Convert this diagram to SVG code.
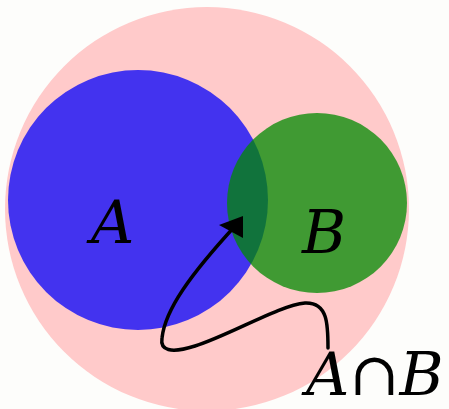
<svg xmlns="http://www.w3.org/2000/svg" width="449" height="409" viewBox="0 0 449 409">
<style>
.lbl{font-family:"DejaVu Serif","Liberation Serif",serif;font-style:italic;font-size:60px;fill:#000}
.conn{fill:none;stroke:#000;stroke-width:3.5;stroke-linecap:round}
</style>
<rect width="449" height="409" fill="#fdfdfb"/>
<g id="universe"><circle cx="207" cy="209" r="202" fill="#ffcaca"/></g>
<g id="A"><circle cx="138" cy="200" r="130" fill="#4333ef"/><text class="lbl" x="91" y="243">A</text></g>
<g id="B"><circle cx="317" cy="203" r="90" fill="#008a00" fill-opacity="0.75"/><text class="lbl" x="302" y="253">B</text></g>
<g id="connectors">
<path class="conn" d="M328,348 C328,325 328,302 305,303 C280,305 230,335 195,346 C170,354 160,350 162,338 C165,310 190,275 236,225"/>
<path d="M243,216 L219,225 L243,238 Z" fill="#000"/>
</g>
<g id="label"><text class="lbl" x="306" y="395" font-size="58">A∩B</text></g>
</svg>
